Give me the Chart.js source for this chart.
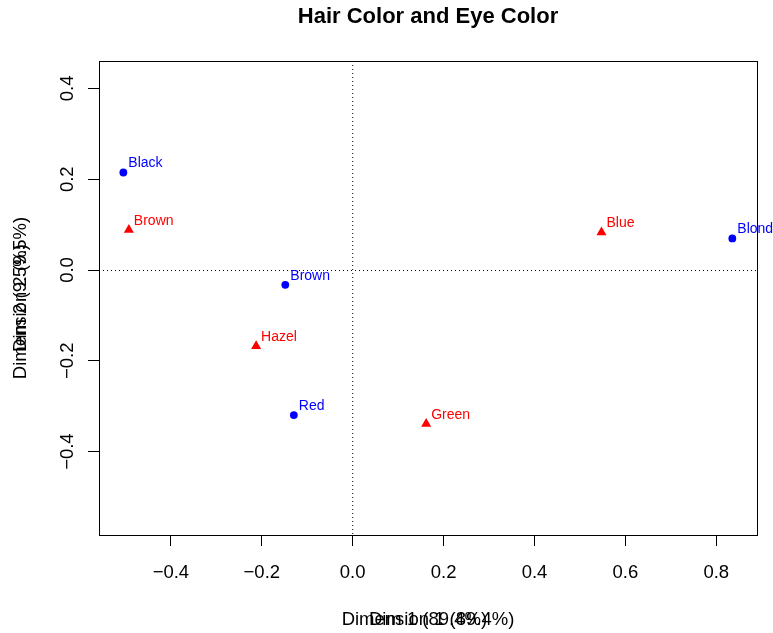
<!DOCTYPE html>
<html>
<head>
<meta charset="utf-8">
<script src="https://cdn.jsdelivr.net/npm/chart.js@4.4.0/dist/chart.umd.min.js"></script>
<style>
  html, body { margin: 0; padding: 0; background: #fff; }
  #wrap { width: 773px; height: 633px; }
</style>
</head>
<body>
<div id="wrap"><canvas id="cachart"></canvas></div>
<script>
// principal coordinates
var hairLabels = ["Black", "Brown", "Red", "Blond"];
var hairDim1 = [-0.5046, -0.1483, -0.1295, 0.8353];
var hairDim2 = [0.2148, -0.0327, -0.3196, 0.0696];

var eyeLabels = ["Brown", "Blue", "Hazel", "Green"];
var eyeDim1 = [-0.4925, 0.5474, -0.2125, 0.1617];
var eyeDim2 = [0.0884, 0.0829, -0.1674, -0.3390];

var xTicks = [-0.4, -0.2, 0.0, 0.2, 0.4, 0.6, 0.8];
var yTicks = [-0.4, -0.2, 0.0, 0.2, 0.4];

var mainTitle = "Hair Color and Eye Color";
var xTitles = ["Dimension 1 (89.4%)", "Dim 1 (89.4%)"];
var yTitles = ["Dimension 2 (9.5%)", "Dim 2 (9.5%)"];

var FONT = '"Liberation Sans", Arial, Helvetica, sans-serif';

function fmt(v) {
  if (Math.abs(v) < 1e-9) return "0.0";
  return (v < 0 ? "\u2212" : "") + Math.abs(v).toFixed(1);
}

function toPoints(xs, ys) {
  return xs.map(function(x, i) { return {x: x, y: ys[i]}; });
}

// R-style frame, dotted zero lines, tick labels and point labels
var rPlot = {
  id: 'rPlot',
  beforeDatasetsDraw: function(chart) {
    var ctx = chart.ctx, a = chart.chartArea;
    var x0 = chart.scales.x.getPixelForValue(0);
    var y0 = chart.scales.y.getPixelForValue(0);
    ctx.save();
    ctx.strokeStyle = '#000';
    ctx.lineWidth = 1;
    ctx.setLineDash([1, 3]);
    ctx.beginPath();
    ctx.moveTo(x0, a.top); ctx.lineTo(x0, a.bottom);
    ctx.moveTo(a.left, Math.round(y0) + 0.5); ctx.lineTo(a.right, Math.round(y0) + 0.5);
    ctx.stroke();
    ctx.restore();
  },
  afterDraw: function(chart) {
    var ctx = chart.ctx, a = chart.chartArea;
    var xs = chart.scales.x, ys = chart.scales.y;
    var cx = (a.left + a.right) / 2, cy = (a.top + a.bottom) / 2;
    ctx.save();

    // box
    ctx.strokeStyle = '#000';
    ctx.lineWidth = 1;
    ctx.strokeRect(a.left + 0.5, a.top + 0.5, a.right - a.left, a.bottom - a.top);

    ctx.fillStyle = '#000';
    ctx.textBaseline = 'alphabetic';
    ctx.textAlign = 'center';

    // title
    ctx.font = 'bold 22px ' + FONT;
    ctx.fillText(mainTitle, cx, 23);

    // tick labels
    ctx.font = '18.5px ' + FONT;
    xTicks.forEach(function(v) {
      ctx.fillText(fmt(v), xs.getPixelForValue(v), 578);
    });
    yTicks.forEach(function(v) {
      ctx.save();
      ctx.translate(73, ys.getPixelForValue(v));
      ctx.rotate(-Math.PI / 2);
      ctx.fillText(fmt(v), 0, 0);
      ctx.restore();
    });

    // axis titles (two labels drawn on top of each other)
    xTitles.forEach(function(t) { ctx.fillText(t, cx, 625); });
    yTitles.forEach(function(t) {
      ctx.save();
      ctx.translate(26, cy);
      ctx.rotate(-Math.PI / 2);
      ctx.fillText(t, 0, 0);
      ctx.restore();
    });

    // point labels
    ctx.font = '14px ' + FONT;
    ctx.textAlign = 'left';
    chart.data.datasets.forEach(function(ds, i) {
      var meta = chart.getDatasetMeta(i);
      ctx.fillStyle = ds.backgroundColor;
      meta.data.forEach(function(el, j) {
        ctx.fillText(ds.names[j], el.x + 5, el.y - 5);
      });
    });
    ctx.restore();
  }
};

var ctx = document.getElementById('cachart').getContext('2d');
var cachart = new Chart(ctx, {
  type: 'scatter',
  data: {
    datasets: [
      {
        label: 'Hair',
        names: hairLabels,
        data: toPoints(hairDim1, hairDim2),
        backgroundColor: '#0000FF',
        borderWidth: 0,
        pointStyle: 'circle',
        pointRadius: 3.9
      },
      {
        label: 'Eye',
        names: eyeLabels,
        data: toPoints(eyeDim1, eyeDim2),
        backgroundColor: '#FF0000',
        borderWidth: 0,
        pointStyle: 'triangle',
        pointRadius: 5.8
      }
    ]
  },
  options: {
    responsive: true,
    maintainAspectRatio: false,
    animation: false,
    events: [],
    layout: { padding: { top: 61, right: 16, left: 0, bottom: 0 } },
    plugins: {
      legend: { display: false },
      tooltip: { enabled: false },
      title: { display: false }
    },
    scales: {
      x: {
        type: 'linear',
        min: -0.5582,
        max: 0.8896,
        afterBuildTicks: function(s) { s.ticks = xTicks.map(function(v) { return {value: v}; }); },
        afterFit: function(s) { s.height = 98; },
        ticks: { display: false },
        grid: { drawOnChartArea: false, drawTicks: true, tickLength: 11, tickColor: '#000', tickWidth: 1 },
        border: { display: false }
      },
      y: {
        type: 'linear',
        min: -0.5837,
        max: 0.4604,
        afterBuildTicks: function(s) { s.ticks = yTicks.map(function(v) { return {value: v}; }); },
        afterFit: function(s) { s.width = 99; },
        ticks: { display: false },
        grid: { drawOnChartArea: false, drawTicks: true, tickLength: 11, tickColor: '#000', tickWidth: 1 },
        border: { display: false }
      }
    }
  },
  plugins: [rPlot]
});
</script>
</body>
</html>
